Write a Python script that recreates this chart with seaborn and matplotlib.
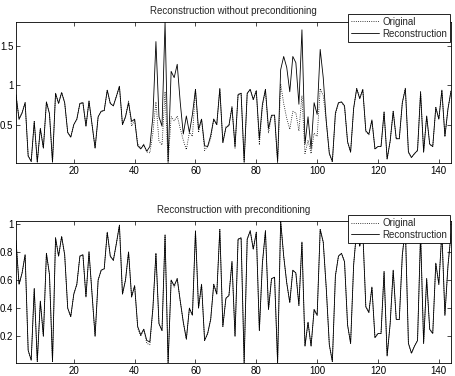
import pandas as pd
import matplotlib
matplotlib.use("Agg")
import matplotlib.pyplot as plt
import seaborn as sns

# sample index 1..144
x = list(range(1, 145))

# original signal
original = [
    0.88, 0.57, 0.65, 0.78, 0.10, 0.03, 0.54, 0.02, 0.45, 0.20,
    0.79, 0.64, 0.02, 0.90, 0.77, 0.91, 0.78, 0.40, 0.34, 0.50,
    0.57, 0.77, 0.78, 0.48, 0.80, 0.50, 0.20, 0.60, 0.67, 0.68,
    0.94, 0.77, 0.74, 0.86, 0.99, 0.50, 0.60, 0.80, 0.48, 0.56,
    0.26, 0.20, 0.25, 0.15, 0.14, 0.39, 0.79, 0.29, 0.24, 0.92,
    0.01, 0.60, 0.55, 0.61, 0.45, 0.30, 0.18, 0.40, 0.35, 0.95,
    0.40, 0.57, 0.17, 0.22, 0.32, 0.57, 0.50, 0.96, 0.27, 0.47,
    0.49, 0.73, 0.20, 0.89, 0.90, 0.01, 0.89, 0.95, 0.82, 0.94,
    0.24, 0.72, 0.95, 0.39, 0.61, 0.62, 0.01, 1.02, 0.77, 0.58,
    0.44, 0.67, 0.65, 0.42, 0.87, 0.13, 0.30, 0.13, 0.39, 0.35,
    0.96, 0.87, 0.54, 0.14, 0.02, 0.63, 0.77, 0.79, 0.73, 0.28,
    0.15, 0.71, 0.96, 0.84, 0.95, 0.41, 0.37, 0.55, 0.19, 0.22,
    0.22, 0.66, 0.06, 0.29, 0.67, 0.32, 0.32, 0.78, 0.97, 0.15,
    0.08, 0.13, 0.17, 0.93, 0.15, 0.61, 0.25, 0.22, 0.72, 0.57,
    0.94, 0.35, 0.70, 0.93,
]

# reconstruction without preconditioning
recon_top = [
    0.88, 0.57, 0.65, 0.78, 0.10, 0.03, 0.54, 0.02, 0.45, 0.20,
    0.79, 0.64, 0.02, 0.90, 0.77, 0.91, 0.78, 0.40, 0.34, 0.50,
    0.57, 0.77, 0.78, 0.48, 0.80, 0.50, 0.20, 0.60, 0.67, 0.68,
    0.94, 0.77, 0.74, 0.86, 0.99, 0.50, 0.60, 0.78, 0.54, 0.57,
    0.23, 0.19, 0.24, 0.16, 0.22, 0.60, 1.56, 0.60, 0.48, 1.81,
    0.03, 1.18, 1.10, 1.27, 0.78, 0.38, 0.61, 0.40, 0.63, 0.95,
    0.44, 0.57, 0.23, 0.22, 0.36, 0.57, 0.50, 0.96, 0.27, 0.46,
    0.49, 0.72, 0.22, 0.88, 0.90, 0.03, 0.90, 0.95, 0.82, 0.93,
    0.32, 0.76, 0.95, 0.45, 0.62, 0.62, 0.03, 1.20, 1.37, 1.23,
    0.92, 1.37, 1.29, 0.76, 1.71, 0.25, 0.60, 0.19, 0.78, 0.63,
    1.46, 1.10, 0.54, 0.13, 0.03, 0.65, 0.78, 0.79, 0.74, 0.28,
    0.15, 0.71, 0.96, 0.83, 0.95, 0.42, 0.38, 0.56, 0.19, 0.22,
    0.22, 0.66, 0.06, 0.29, 0.67, 0.32, 0.32, 0.78, 0.96, 0.15,
    0.08, 0.13, 0.17, 0.91, 0.15, 0.61, 0.25, 0.22, 0.72, 0.57,
    0.94, 0.35, 0.70, 0.93,
]

# reconstruction with preconditioning
recon_bottom = [
    0.88, 0.57, 0.65, 0.78, 0.10, 0.03, 0.54, 0.02, 0.45, 0.20,
    0.79, 0.64, 0.02, 0.90, 0.77, 0.91, 0.78, 0.40, 0.34, 0.50,
    0.57, 0.77, 0.78, 0.48, 0.80, 0.50, 0.20, 0.60, 0.67, 0.68,
    0.94, 0.77, 0.74, 0.86, 0.99, 0.50, 0.60, 0.80, 0.48, 0.56,
    0.27, 0.21, 0.25, 0.17, 0.16, 0.40, 0.79, 0.29, 0.24, 0.92,
    0.01, 0.60, 0.56, 0.61, 0.45, 0.30, 0.18, 0.40, 0.35, 0.95,
    0.40, 0.57, 0.17, 0.22, 0.32, 0.57, 0.50, 0.96, 0.27, 0.47,
    0.49, 0.73, 0.20, 0.89, 0.90, 0.01, 0.89, 0.95, 0.82, 0.94,
    0.24, 0.72, 0.95, 0.39, 0.61, 0.62, 0.01, 1.02, 0.77, 0.58,
    0.44, 0.67, 0.65, 0.42, 0.87, 0.13, 0.30, 0.13, 0.39, 0.35,
    0.96, 0.87, 0.54, 0.14, 0.02, 0.63, 0.77, 0.79, 0.73, 0.28,
    0.15, 0.71, 0.96, 0.84, 0.95, 0.41, 0.37, 0.55, 0.19, 0.22,
    0.22, 0.66, 0.06, 0.29, 0.67, 0.32, 0.32, 0.78, 0.97, 0.15,
    0.08, 0.13, 0.17, 0.93, 0.15, 0.61, 0.25, 0.22, 0.72, 0.57,
    0.94, 0.35, 0.70, 0.93,
]

titles = ["Reconstruction without preconditioning",
          "Reconstruction with preconditioning"]
legend_labels = ["Original", "Reconstruction"]
xticks = [20, 40, 60, 80, 100, 120, 140]
yticks_top = [0.5, 1, 1.5]
yticks_bottom = [0.2, 0.4, 0.6, 0.8, 1]

sns.set_style("ticks")
plt.rcParams['font.family'] = ['Liberation Sans', 'DejaVu Sans']
plt.rcParams['font.size'] = 7

W, H = 455, 376
fig = plt.figure(figsize=(W / 100, H / 100), dpi=100)
ax1 = fig.add_axes([16 / W, 1 - 163 / H, 435 / W, 141 / H])
ax2 = fig.add_axes([16 / W, 1 - 363 / H, 435 / W, 142 / H])

panels = [
    (ax1, recon_top, titles[0], yticks_top, 1.057),
    (ax2, recon_bottom, titles[1], yticks_bottom, 1.042),
]

for ax, recon, title, yt, anchor_y in panels:
    df = pd.DataFrame({"x": x, "orig": original, "recon": recon})
    sns.lineplot(data=df, x="x", y="orig", ax=ax, color="k",
                 linestyle=":", linewidth=0.6, label=legend_labels[0])
    sns.lineplot(data=df, x="x", y="recon", ax=ax, color="k",
                 linewidth=0.6, label=legend_labels[1])

    ax.set_xlim(1, 144)
    ax.set_ylim(min(min(original), min(recon)), max(max(original), max(recon)))
    ax.set_xticks(xticks)
    ax.set_xticklabels([str(v) for v in xticks])
    ax.set_yticks(yt)
    ax.set_yticklabels([f"{v:g}" for v in yt])
    ax.set_xlabel("")
    ax.set_ylabel("")
    ax.tick_params(direction="in", top=True, right=True, length=3,
                   width=0.5, labelsize=7, pad=2, colors="k")
    for s in ax.spines.values():
        s.set_visible(True)
        s.set_linewidth(0.6)
        s.set_color("k")
    ax.set_title(title, fontsize=7, pad=6)

    leg = ax.legend(loc="upper right", bbox_to_anchor=(0.998, anchor_y),
                    borderaxespad=0, frameon=True, fancybox=False,
                    fontsize=7, handlelength=2.9, handletextpad=0.35,
                    borderpad=0.3, labelspacing=0.2, framealpha=1)
    leg.get_frame().set_edgecolor("k")
    leg.get_frame().set_linewidth(0.6)
    leg.set_zorder(5)

fig.savefig("out.png", dpi=100)
